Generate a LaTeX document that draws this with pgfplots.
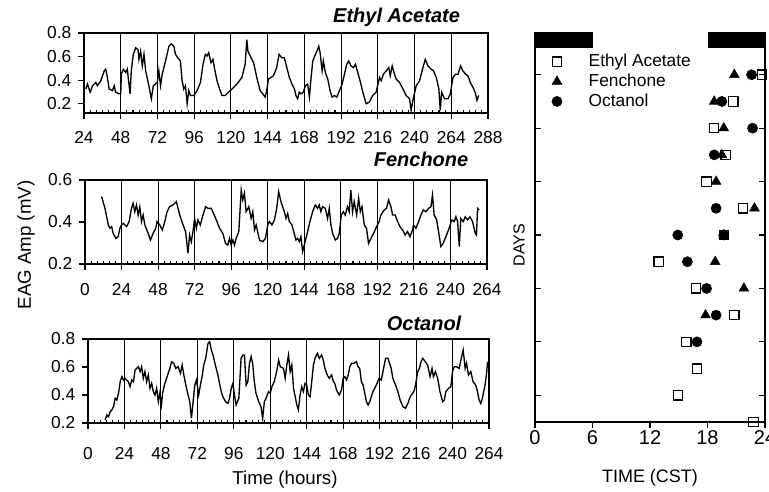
\documentclass[border=0pt]{standalone}
\usepackage{fontspec}
\setmainfont{Liberation Sans}
\usepackage{pgfplots}
\pgfplotsset{compat=1.18}

% one pixel of the reference = 0.75pt
\pgfplotsset{
  eag/.style={
    scale only axis, anchor=south west,
    axis line style={line width=0.8pt},
    xtick distance=24, minor x tick num=5,
    xtick pos=bottom, ytick pos=left,
    tick align=inside,
    major tick length=4.5pt, minor tick length=2.2pt,
    major x tick style={yshift=-4.5pt, line width=0.8pt, black},
    major y tick style={xshift=-4.5pt, line width=0.8pt, black},
    minor tick style={black, line width=0.8pt},
    xmajorgrids, major grid style={black, line width=0.8pt},
    /pgf/number format/assume math mode=true,
    ticklabel style={font=\fontsize{13}{14}\selectfont},
    yticklabel style={/pgf/number format/fixed, /pgf/number format/precision=1,
      /pgf/number format/fixed zerofill, xshift=-6pt},
  },
  trace/.style={black, line width=1pt, mark=none},
}

\begin{document}
\begin{tikzpicture}

% Ethyl Acetate
\begin{axis}[eag, at={(63pt,284.25pt)}, width=303pt, height=60pt,
  xmin=24, xmax=288, ymin=0.12, ymax=0.8, ytick={0.2,0.4,0.6,0.8},
  xticklabel style={yshift=-10.5pt}]
\addplot[trace] coordinates {
(25.2,0.324)(26.3,0.366)(28.0,0.297)(29.6,0.352)(31.7,0.380)(32.8,0.352)(35.0,0.394)
(36.1,0.436)(37.2,0.478)(38.2,0.492)(39.3,0.422)(40.4,0.324)(42.6,0.310)(43.7,0.352)
(44.7,0.297)(46.9,0.283)(48.0,0.283)(48.4,0.450)(49.7,0.492)(51.3,0.464)(52.3,0.492)
(54.1,0.283)(54.9,0.478)(56.2,0.618)(57.8,0.674)(59.3,0.660)(59.9,0.576)(61.0,0.646)
(62.1,0.520)(63.2,0.618)(64.3,0.478)(66.4,0.352)(68.0,0.241)(69.3,0.352)(70.8,0.366)
(71.9,0.380)(72.9,0.478)(74.0,0.352)(75.1,0.450)(77.3,0.562)(79.5,0.688)(81.0,0.708)
(82.7,0.688)(83.8,0.618)(85.3,0.590)(87.0,0.562)(88.1,0.394)(89.2,0.324)(90.3,0.352)
(91.4,0.199)(92.5,0.310)(93.6,0.269)(95.7,0.269)(97.9,0.310)(100.1,0.380)(101.8,0.534)
(103.3,0.618)(104.4,0.604)(105.5,0.632)(107.0,0.548)(108.3,0.576)(109.2,0.506)
(110.9,0.394)(112.6,0.324)(114.2,0.269)(116.3,0.269)(118.5,0.297)(120.7,0.324)
(123.9,0.366)(127.2,0.422)(129.3,0.534)(130.4,0.744)(131.1,0.646)(132.6,0.604)
(134.8,0.548)(136.9,0.422)(139.1,0.310)(140.8,0.283)(142.4,0.255)(143.4,0.310)
(144.5,0.408)(147.8,0.436)(149.9,0.506)(151.5,0.618)(153.2,0.590)(154.9,0.590)
(156.0,0.534)(158.2,0.422)(159.9,0.366)(161.5,0.324)(162.5,0.269)(163.6,0.241)
(164.7,0.297)(165.8,0.283)(167.3,0.297)(168.7,0.352)(170.2,0.366)(171.3,0.255)
(172.4,0.422)(173.5,0.562)(175.2,0.618)(176.7,0.660)(177.4,0.688)(178.3,0.632)
(179.6,0.478)(180.4,0.562)(181.7,0.464)(183.3,0.408)(184.8,0.310)(186.1,0.255)
(187.6,0.269)(189.2,0.255)(190.9,0.310)(192.7,0.366)(194.2,0.450)(195.7,0.534)
(197.0,0.562)(198.5,0.520)(200.1,0.506)(201.4,0.534)(202.9,0.464)(204.4,0.394)
(206.2,0.297)(208.4,0.199)(210.5,0.213)(212.7,0.269)(214.9,0.297)(217.1,0.422)
(218.2,0.394)(219.7,0.450)(221.5,0.478)(223.2,0.506)(224.1,0.436)(225.4,0.520)
(226.9,0.450)(228.0,0.408)(230.2,0.380)(232.4,0.324)(234.5,0.269)(236.7,0.241)
(237.8,0.143)(238.9,0.227)(241.1,0.352)(243.3,0.394)(245.5,0.506)(247.0,0.576)
(248.7,0.520)(250.9,0.492)(252.4,0.478)(254.2,0.422)(255.9,0.324)(256.8,0.143)
(257.7,0.297)(259.6,0.241)(261.8,0.241)(263.4,0.283)(265.1,0.422)(266.8,0.450)
(268.4,0.450)(270.1,0.520)(271.6,0.478)(273.4,0.450)(274.9,0.436)(276.4,0.380)
(278.2,0.338)(279.9,0.283)(280.8,0.227)(281.9,0.269)
};
\end{axis}

% Fenchone
\begin{axis}[eag, at={(63.75pt,171pt)}, width=301.5pt, height=63pt,
  xmin=0, xmax=264, ymin=0.2, ymax=0.6, ytick={0.2,0.4,0.6},
  xticklabel style={yshift=-11pt}]
\addplot[trace] coordinates {
(10.9,0.521)(13.1,0.465)(15.3,0.386)(16.4,0.370)(17.5,0.378)(18.5,0.346)(20.3,0.322)
(21.8,0.330)(22.9,0.370)(24.0,0.386)(25.1,0.394)(27.3,0.378)(29.0,0.402)(30.5,0.465)
(31.6,0.489)(32.7,0.449)(33.8,0.481)(34.9,0.433)(36.0,0.473)(37.1,0.402)(38.2,0.433)
(39.3,0.386)(41.5,0.346)(43.0,0.314)(44.7,0.346)(46.5,0.370)(47.3,0.402)(49.1,0.386)
(50.8,0.362)(52.4,0.402)(53.9,0.449)(55.6,0.473)(57.8,0.481)(60.0,0.497)(61.1,0.465)
(62.2,0.433)(64.4,0.386)(66.1,0.354)(67.6,0.251)(68.7,0.338)(69.8,0.306)(70.9,0.354)
(72.0,0.417)(73.1,0.370)(74.2,0.410)(75.7,0.386)(77.5,0.433)(79.2,0.473)(80.7,0.465)
(82.9,0.465)(84.4,0.441)(86.2,0.410)(88.4,0.370)(90.5,0.346)(92.3,0.298)(93.8,0.290)
(94.9,0.322)(96.0,0.290)(97.1,0.314)(98.2,0.290)(99.3,0.322)(101.0,0.354)(102.6,0.552)
(103.6,0.505)(104.7,0.537)(105.8,0.449)(107.6,0.473)(109.1,0.417)(110.2,0.449)
(111.3,0.362)(112.4,0.386)(114.6,0.314)(116.7,0.306)(118.5,0.322)(120.0,0.386)
(121.1,0.402)(122.8,0.386)(124.4,0.410)(125.9,0.465)(127.2,0.544)(128.7,0.497)
(130.9,0.449)(132.0,0.417)(133.1,0.441)(134.2,0.402)(135.9,0.386)(137.4,0.346)
(138.5,0.314)(139.6,0.322)(140.7,0.306)(141.8,0.330)(142.9,0.259)(144.0,0.290)
(145.1,0.322)(146.2,0.354)(147.7,0.402)(149.5,0.449)(151.2,0.481)(152.8,0.465)
(153.8,0.481)(154.9,0.449)(156.0,0.473)(157.8,0.465)(159.3,0.417)(160.4,0.465)
(161.5,0.386)(162.6,0.346)(164.4,0.314)(165.9,0.322)(167.0,0.346)(168.3,0.433)
(169.6,0.449)(170.9,0.433)(172.4,0.473)(173.5,0.449)(174.6,0.552)(175.7,0.449)
(176.8,0.497)(178.4,0.433)(179.7,0.513)(180.8,0.449)(181.9,0.473)(183.4,0.386)
(184.9,0.370)(186.2,0.298)(187.8,0.322)(190.0,0.354)(191.5,0.378)(193.2,0.402)
(194.3,0.433)(196.5,0.457)(198.0,0.465)(199.4,0.505)(200.9,0.473)(202.0,0.433)
(203.7,0.433)(205.3,0.402)(206.8,0.378)(208.6,0.362)(210.3,0.338)(211.8,0.354)
(213.4,0.330)(214.7,0.354)(215.8,0.386)(217.3,0.370)(219.1,0.402)(220.6,0.433)
(222.1,0.457)(223.9,0.449)(225.6,0.465)(227.2,0.473)(228.2,0.529)(229.3,0.433)
(230.9,0.410)(232.2,0.354)(233.7,0.283)(235.2,0.298)(237.0,0.330)(238.7,0.362)
(239.8,0.386)(240.9,0.410)(242.5,0.402)(243.6,0.425)(244.7,0.402)(245.8,0.283)
(246.8,0.417)(248.4,0.402)(249.7,0.425)(251.2,0.410)(252.8,0.425)(254.5,0.402)
(256.3,0.346)(257.1,0.338)(257.8,0.465)(258.9,0.457)
};
\end{axis}

% Octanol
\begin{axis}[eag, at={(66pt,51.75pt)}, width=300.75pt, height=63pt,
  xmin=0, xmax=264, ymin=0.2, ymax=0.8, ytick={0.2,0.4,0.6,0.8},
  xticklabel style={yshift=-15pt}]
\addplot[trace] coordinates {
(11.3,0.221)(12.4,0.257)(13.5,0.245)(14.6,0.281)(15.7,0.293)(16.8,0.317)(17.9,0.376)
(19.0,0.364)(20.1,0.412)(21.2,0.495)(22.3,0.531)(23.3,0.507)(24.4,0.519)(25.5,0.507)
(26.6,0.495)(27.7,0.460)(28.8,0.507)(29.9,0.495)(31.0,0.579)(32.1,0.590)(33.2,0.602)
(34.3,0.567)(35.3,0.602)(36.4,0.519)(37.5,0.567)(38.6,0.495)(39.7,0.543)(40.8,0.448)
(41.9,0.483)(43.0,0.424)(44.1,0.400)(45.2,0.448)(46.3,0.352)(47.3,0.412)(48.4,0.329)
(49.1,0.412)(50.6,0.483)(52.1,0.531)(53.9,0.590)(55.0,0.638)(56.5,0.626)(57.8,0.590)
(59.3,0.602)(60.9,0.555)(62.0,0.614)(63.1,0.543)(64.4,0.471)(65.9,0.400)(67.0,0.352)
(68.1,0.233)(69.2,0.352)(70.3,0.471)(71.4,0.507)(72.9,0.400)(74.0,0.471)(75.3,0.543)
(76.2,0.614)(77.5,0.662)(79.0,0.769)(80.1,0.781)(81.2,0.721)(82.3,0.686)(83.3,0.638)
(84.4,0.590)(85.5,0.543)(86.6,0.483)(87.7,0.424)(88.8,0.388)(90.6,0.352)(92.1,0.340)
(93.2,0.376)(94.3,0.448)(95.4,0.483)(96.4,0.400)(97.5,0.329)(99.3,0.376)(100.8,0.662)
(101.9,0.686)(103.0,0.686)(104.1,0.471)(105.2,0.495)(106.3,0.626)(107.4,0.674)
(108.4,0.626)(109.5,0.495)(110.6,0.412)(112.4,0.352)(113.9,0.317)(115.0,0.233)
(116.1,0.352)(117.2,0.376)(118.9,0.424)(120.0,0.412)(121.1,0.460)(122.6,0.495)
(124.2,0.567)(125.5,0.650)(126.6,0.602)(128.7,0.590)(129.8,0.519)(130.9,0.614)
(132.0,0.686)(133.1,0.567)(134.2,0.614)(135.3,0.448)(136.4,0.388)(137.5,0.329)
(138.5,0.293)(139.6,0.400)(140.7,0.460)(141.8,0.424)(142.9,0.483)(144.0,0.471)
(145.1,0.400)(146.2,0.388)(147.3,0.495)(148.4,0.614)(149.5,0.662)(151.0,0.698)
(152.3,0.662)(153.8,0.686)(154.9,0.650)(156.0,0.590)(157.5,0.543)(158.8,0.519)
(160.4,0.543)(161.5,0.495)(162.5,0.483)(163.6,0.436)(165.4,0.400)(166.9,0.436)
(168.0,0.519)(169.1,0.531)(170.2,0.507)(171.3,0.543)(172.4,0.602)(173.5,0.626)
(175.0,0.626)(176.7,0.638)(177.8,0.602)(178.9,0.590)(180.0,0.495)(181.1,0.471)
(182.2,0.412)(183.3,0.352)(184.4,0.329)(185.5,0.352)(187.6,0.424)(189.8,0.471)
(191.6,0.519)(193.1,0.507)(194.6,0.590)(195.9,0.662)(197.5,0.662)(198.5,0.626)
(199.6,0.590)(200.7,0.519)(202.5,0.471)(204.0,0.424)(205.5,0.364)(207.3,0.317)
(209.0,0.305)(210.6,0.340)(212.1,0.388)(213.8,0.412)(214.9,0.436)(216.0,0.495)
(217.1,0.567)(218.2,0.590)(219.3,0.638)(220.4,0.662)(222.1,0.638)(223.6,0.614)
(225.2,0.531)(226.5,0.590)(227.4,0.531)(228.7,0.567)(230.2,0.519)(231.7,0.424)
(233.5,0.352)(234.6,0.364)(235.6,0.424)(237.4,0.448)(238.9,0.460)(240.0,0.567)
(241.1,0.602)(242.6,0.602)(244.4,0.590)(245.5,0.650)(247.0,0.721)(248.3,0.590)
(249.2,0.626)(250.5,0.543)(252.0,0.567)(253.5,0.495)(255.3,0.471)(256.4,0.424)
(257.5,0.364)(258.6,0.340)(259.6,0.376)(261.4,0.471)(262.3,0.543)(263.1,0.638)
};
\end{axis}

% phase plot
\begin{axis}[scale only axis, anchor=south west, at={(401.25pt,52.5pt)},
  width=172.5pt, height=292.5pt,
  xmin=0, xmax=24, ymin=0, ymax=14.6,
  axis x line*=bottom, axis y line*=box,
  axis line style={line width=0.8pt},
  xtick={0,6,12,18,24}, ytick={1,3,5,7,9,11,13}, yticklabels={,,,,,,},
  tick align=inside, major tick length=4.5pt,
  major tick style={line width=0.8pt, black},
  major x tick style={yshift=-4.5pt},
  /pgf/number format/assume math mode=true,
  ticklabel style={font=\fontsize{15}{16}\selectfont},
  xticklabel style={yshift=-3pt},
  legend style={at={(0.055,0.957)}, anchor=north west, draw=none, fill=none,
    font=\fontsize{13}{14}\selectfont, row sep=0pt,
    /tikz/every odd column/.append style={column sep=18pt}},
  legend cell align=left,
  clip=false,
]
\fill[black] (axis cs:0,14.0) rectangle (axis cs:6,14.6);
\fill[black] (axis cs:18,14.0) rectangle (axis cs:24,14.6);
\addplot[only marks, mark=square, mark size=3.5pt, black, line width=0.9pt] coordinates {
(23.7,13)(20.7,12)(18.7,11)(19.9,10)(17.9,9)(21.7,8)(19.7,7)(12.9,6)(16.8,5)(20.8,4)
(15.8,3)(16.9,2)(14.9,1)(22.8,0)
};
\addlegendentry{Ethyl Acetate}
\addplot[only marks, mark=triangle*, mark size=4.2pt, black] coordinates {
(20.8,13)(18.7,12)(19.7,11)(19.5,10)(18.9,9)(22.9,8)(19.7,7)(18.8,6)(21.8,5)(17.8,4)
};
\addlegendentry{Fenchone}
\addplot[only marks, mark=*, mark size=3.8pt, black] coordinates {
(22.6,13)(19.5,12)(22.7,11)(18.7,10)(18.9,8)(14.9,7)(19.7,7)(15.9,6)(17.9,5)(18.9,4)
(16.9,3)
};
\addlegendentry{Octanol}
\end{axis}

% titles and axis labels
\node[anchor=east, font=\fontsize{15}{16}\selectfont\bfseries\itshape] at (348.5pt,356.25pt) {Ethyl Acetate};
\node[anchor=east, font=\fontsize{15}{16}\selectfont\bfseries\itshape] at (354.75pt,249.5pt) {Fenchone};
\node[anchor=east, font=\fontsize{15}{16}\selectfont\bfseries\itshape] at (349.5pt,126.75pt) {Octanol};
\node[rotate=90, font=\fontsize{14}{15}\selectfont] at (19.5pt,185.25pt) {EAG Amp (mV)};
\node[font=\fontsize{14}{15}\selectfont] at (213.75pt,9pt) {Time (hours)};
\node[rotate=90, font=\fontsize{12}{13}\selectfont] at (389.25pt,185.25pt) {DAYS};
\node[font=\fontsize{13.5}{14}\selectfont] at (487.5pt,10.5pt) {TIME (CST)};

\pgfresetboundingbox
\path (0,0) rectangle (576.75pt,369pt);
\end{tikzpicture}
\end{document}
